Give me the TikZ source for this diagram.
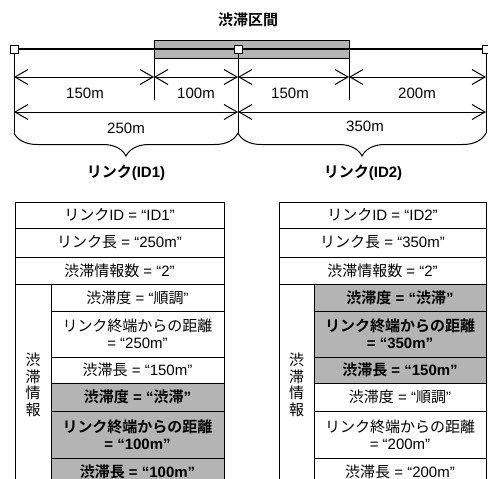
\documentclass[tikz,border=0pt]{standalone}
\usepackage{fontspec}
\setmainfont{Liberation Sans}
\newfontfamily\jp{Noto Sans CJK JP}[BoldFont={Noto Sans CJK JP Bold}]
\usetikzlibrary{arrows.meta,decorations.pathreplacing}
\definecolor{cellgray}{RGB}{180,180,180}
\newcommand{\jt}[1]{{\jp #1}}
\begin{document}
\begin{tikzpicture}[x=1pt,y=-1pt,
  every node/.style={inner sep=0pt, outer sep=0pt, font=\fontsize{15}{17}\selectfont},
  cell/.style={draw, line width=1pt, anchor=north west, align=center, fill=white},
  hot/.style={cell, fill=cellgray, font=\fontsize{15}{17}\selectfont\bfseries},
  vlab/.style={cell, align=center, font=\fontsize{15}{16.5}\selectfont\jp},
  dimline/.style={line width=1pt, {Straight Barb[length=13pt,width=15pt]}-{Straight Barb[length=13pt,width=15pt]}},
  ext/.style={line width=1pt},
  sq/.style={draw, fill=white, minimum size=8pt, line width=0.8pt},
  boldlbl/.style={font=\fontsize{15}{17}\selectfont\bfseries},
  bracestyle/.style={line width=1pt, decorate, decoration={brace, mirror, amplitude=23pt}},
]
\useasboundingbox (0,0) rectangle (488,479);
\clip (0,0) rectangle (488,479);

% ---------- top diagram ----------
\node[boldlbl] (title) at (248,20) {\jt{渋滞区間}};
\node[draw, fill=cellgray, line width=1pt, anchor=north west, minimum width=195pt, minimum height=18pt] (zone) at (154,40) {};

\node[sq] (pA) at (14,49) {};
\node[sq] (pB) at (238,49) {};
\node[sq] (pC) at (486,49) {};
\draw[line width=2.4pt] (pA) -- (pB) -- (pC);
\node[sq] at (pB) {};

\coordinate (eA) at (14,133);
\coordinate (eB) at (238,133);
\coordinate (eC) at (486,133);
\coordinate (zL) at (154,100);
\coordinate (zR) at (349,100);
\draw[ext] (pA.south) -- (eA);
\draw[ext] (pB.south) -- (eB);
\draw[ext] (pC.south) -- (eC);
\draw[ext] (zone.south west) -- (zL);
\draw[ext] (zone.south east) -- (zR);

\coordinate (a1) at (14,77);
\coordinate (a2) at (154,77);
\coordinate (a3) at (238,77);
\coordinate (a4) at (349,77);
\coordinate (a5) at (486,77);
\draw[dimline] (a1) -- (a2);
\draw[dimline] (a2) -- (a3);
\draw[dimline] (a3) -- (a4);
\draw[dimline] (a4) -- (a5);
\coordinate (b1) at (14,112);
\coordinate (b2) at (238,112);
\coordinate (b3) at (486,112);
\draw[dimline] (b1) -- (b2);
\draw[dimline] (b2) -- (b3);

\node (d1) at (85,93) {150m};
\node (d2) at (196,93) {100m};
\node (d3) at (290,93) {150m};
\node (d4) at (417,93) {200m};
\node (d5) at (126,128) {250m};
\node (d6) at (365,126) {350m};

\draw[bracestyle] (eA) -- (eB);
\draw[bracestyle] (eB) -- (eC);
\node[boldlbl] (link1) at (126,173) {\jt{リンク}(ID1)};
\node[boldlbl] (link2) at (363,173) {\jt{リンク}(ID2)};

% ---------- left table ----------
\node[cell, minimum width=209pt, minimum height=26pt] (L1) at (15,202) {\jt{リンク}ID = “ID1”};
\node[cell, minimum width=209pt, minimum height=29pt] (L2) at (15,228) {\jt{リンク長} = “250m”};
\node[cell, minimum width=209pt, minimum height=27pt] (L3) at (15,257) {\jt{渋滞情報数} = “2”};
\node[vlab, minimum width=36pt, minimum height=202pt] (LV) at (15,284) {渋\\滞\\情\\報};
\node[cell, minimum width=173pt, minimum height=27pt] (LS1) at (51,284) {\jt{渋滞度} = “\jt{順調}”};
\node[cell, minimum width=173pt, minimum height=46pt] (LS2) at (51,311) {\jt{リンク終端からの距離}\\= “250m”};
\node[cell, minimum width=173pt, minimum height=26pt] (LS3) at (51,357) {\jt{渋滞長} = “150m”};
\node[hot, minimum width=173pt, minimum height=28pt] (LS4) at (51,383) {\jt{渋滞度} = “\jt{渋滞}”};
\node[hot, minimum width=173pt, minimum height=47pt] (LS5) at (51,411) {\jt{リンク終端からの距離}\\= “100m”};
\node[hot, minimum width=173pt, minimum height=27pt] (LS6) at (51,458) {\jt{渋滞長} = “100m”};

% ---------- right table ----------
\node[cell, minimum width=207pt, minimum height=26pt] (R1) at (279,202) {\jt{リンク}ID = “ID2”};
\node[cell, minimum width=207pt, minimum height=29pt] (R2) at (279,228) {\jt{リンク長} = “350m”};
\node[cell, minimum width=207pt, minimum height=27pt] (R3) at (279,257) {\jt{渋滞情報数} = “2”};
\node[vlab, minimum width=35pt, minimum height=202pt] (RV) at (279,284) {渋\\滞\\情\\報};
\node[hot, minimum width=172pt, minimum height=27pt] (RS1) at (314,284) {\jt{渋滞度} = “\jt{渋滞}”};
\node[hot, minimum width=172pt, minimum height=46pt] (RS2) at (314,311) {\jt{リンク終端からの距離}\\= “350m”};
\node[hot, minimum width=172pt, minimum height=26pt] (RS3) at (314,357) {\jt{渋滞長} = “150m”};
\node[cell, minimum width=172pt, minimum height=28pt] (RS4) at (314,383) {\jt{渋滞度} = “\jt{順調}”};
\node[cell, minimum width=172pt, minimum height=47pt] (RS5) at (314,411) {\jt{リンク終端からの距離}\\= “200m”};
\node[cell, minimum width=172pt, minimum height=27pt] (RS6) at (314,458) {\jt{渋滞長} = “200m”};
\end{tikzpicture}
\end{document}
